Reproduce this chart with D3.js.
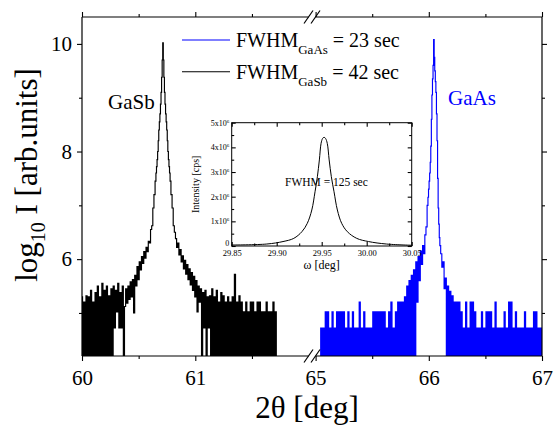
<!DOCTYPE html>
<html>
<head>
<meta charset="utf-8">
<script src="https://cdn.jsdelivr.net/npm/d3@7"></script>
<style>
  body { margin: 0; background: #fff; }
  svg { display: block; font-family: "Liberation Serif", "Times New Roman", serif; }
</style>
</head>
<body>
<svg id="chart" width="555" height="428"></svg>
<script>
// ---- data (log10 I; 0 = no counts, below the axis) ----
// GaSb scan, step 0.01 deg from 60.00
const gasbLeftStart = 60.00;
const gasbLeft = [5.3,0,5.2,0,5.32,0,5.3,0,5.42,0, 5.2,0,5.38,0,5.5,0,5.3,0,5.55,0,
  5.42,0,5.5,0,5.32,0,5.45,0, 5.5,4.72,5.42,5.02,5.55,4.72,5.38,4.72,5.5, 0,
  5.12,5.45,5.18,5.5,5.25,5.58,5.3,5.62,5.0,5.7,5.5,5.86,5.62,5.95,5.8,6.05,5.92,6.14,6.02,6.22,6.14,6.33,
  6.3,6.55,6.62,6.95,7.2,7.45];
// GaSb peak core, step 0.005 deg
const gasbCoreStart = 60.655;
const gasbCore = [7.6,7.72,7.85,8.0,8.2,8.4,8.55,8.7,8.88,9.1,9.38,9.7,10.02,
  9.7,9.38,9.1,8.88,8.7,8.55,8.4,8.2,8.0,7.85,7.72,7.6];
const gasbRightStart = 60.78;
const gasbRight = [7.45,7.2,6.95,6.62,6.5,6.38,6.22,6.3,6.08,6.18,5.95,6.06,5.82,5.98,5.72,5.9,5.62,5.82,
  5.52,5.75,5.42,5.68,5.3,5.6,5.02,5.5,5.2,5.45,0,5.38,4.72,5.42,0,5.3,4.72,5.32,
  0,5.45,0,5.3,0,5.42,0,5.2,0,5.38, 0,5.32,0,5.2,0,5.3,0,5.2,0,5.3,
  0,5.72,0,5.2,0,5.32,0,5.2,0,5.02, 0,5.2,0,5.02,0,5.2,0,5.2,0,5.02,
  0,5.2,0,5.2,0,5.02,0,5.02,0,5.2, 0,5.02,0,5.02,0,5.2,0,5.02, 0];

// GaAs scan, step 0.01 deg from 65.04
const gaasLeftStart = 65.04;
const gaasLeft = [0,4.72,0,4.72,0,5.02,0,5.02,0,4.72, 0,5.02,0,4.72,0,5.02,0,5.02,0,5.02,
  0,5.02,0,4.72,0,5.02,0,4.72,0,5.02, 0,4.72,0,4.72,0,5.2,0,4.72,0,5.02,
  0,4.72,0,4.72,0,4.72,0,5.02,0,5.02, 0,5.02,0,5.02,0,5.02,0,5.02,0,4.72,
  0,5.02,0,5.2,0,4.72,0,5.02,0,5.2, 0,5.2,0,5.2,0,5.3,0,5.5,0,5.6,
  0,5.7,0,5.8,0,5.95,5.2,6.05,5.6,6.15, 5.9,6.25,6.1,6.45,6.6];
const gaasCoreStart = 65.99;
const gaasCore = [7.0,7.15,7.3,7.45,7.6,7.8,8.1,8.6,9.05,9.35,9.6,10.08,
  9.75,9.5,9.3,9.1,8.7,8.2,7.5,6.95,6.65,6.4,6.25];
const gaasRightStart = 66.11;
const gaasRight = [6.1,5.85,5.95,5.45,5.65,
  0,5.5,0,5.4,0,5.32,0,5.2,0,5.2, 0,5.2,0,5.02,0,4.72,0,5.2,0,4.72,
  0,5.2,0,5.2,0,5.02,0,4.72,0,4.72, 0,5.02,0,4.72,0,5.02,0,5.02,0,5.02,
  0,4.72,0,5.2,0,4.72,0,4.72,0,4.72, 0,5.02,0,4.72,0,5.2,0,5.2,0,4.72,
  0,5.02,0,4.72,0,4.72,0,4.72,0,5.02, 0,4.72,0,4.72,0,4.72,0,5.02,0,5.02,
  0,4.72,0,4.72,0];

// inset rocking curve (intensity in 1e6 cps)
const insetOmega = [29.85,29.889,29.907,29.919,29.928,29.934,29.939,29.9426,29.9452,29.9474,29.9493,29.951,29.9526,
  29.9543,29.9562,29.9583,29.9607,29.9637,29.9674,29.9722,29.9785,29.9889,30.002,30.022,30.05];
const insetI = [0.04,0.08,0.18,0.31,0.58,0.92,1.46,2.2,2.81,3.49,4.16,4.36,4.41,
  4.36,4.16,3.49,2.81,2.2,1.46,0.92,0.58,0.31,0.18,0.08,0.03];

const xTicks = [60, 61, 65, 66, 67];
const xMinor = [60.5, 61.5, 65.5, 66.5];
const yTicks = [6, 8, 10];
const yMinor = [5, 7, 9];
const insetXTicks = [29.85, 29.90, 29.95, 30.00, 30.05];
const insetXMinor = [29.875, 29.925, 29.975, 30.025];
const insetYTicks = [0, 1, 2, 3, 4, 5];
const insetYMinor = [0.5, 1.5, 2.5, 3.5, 4.5];

// ---- layout ----
const svg = d3.select('#chart');
const L = 82, R = 542, T = 17, B = 356;
const gapL = 308.6, gapR = 315.6;   // axis break

const x = d3.scaleLinear().domain([60, 62, 65, 67]).range([L, gapL, gapR, R]);
const y = d3.scaleLinear().domain([4.2, 10.5]).range([B, T]).clamp(true);

const series = (parts) => parts.flatMap(([start, step, vals]) => vals.map((v, i) => [start + i * step, v]));
const gasb = series([[gasbLeftStart, 0.01, gasbLeft], [gasbCoreStart, 0.005, gasbCore], [gasbRightStart, 0.01, gasbRight]]);
const gaas = series([[gaasLeftStart, 0.01, gaasLeft], [gaasCoreStart, 0.005, gaasCore], [gaasRightStart, 0.01, gaasRight]]);

svg.append('defs').append('clipPath').attr('id', 'plotclip')
  .append('rect').attr('x', L).attr('y', T).attr('width', R - L).attr('height', B - T);

const line = d3.line().x(d => x(d[0])).y(d => y(d[1])).curve(d3.curveStep);
const plot = svg.append('g').attr('clip-path', 'url(#plotclip)');
plot.append('path').datum(gasb).attr('d', line).attr('fill', 'none').attr('stroke', '#000').attr('stroke-width', 1.15);
plot.append('path').datum(gaas).attr('d', line).attr('fill', 'none').attr('stroke', '#0000ff').attr('stroke-width', 1.15);

// ---- axes ----
function ticks(gen, tr, vals, size, fmt, fs, pad) {
  const g = svg.append('g').attr('transform', tr)
    .call(gen.tickValues(vals).tickSize(size).tickPadding(pad).tickFormat(fmt));
  g.attr('font-family', null).attr('font-size', null);
  g.select('.domain').remove();
  g.selectAll('line').attr('stroke', '#000').attr('stroke-width', 1.1);
  g.selectAll('text').attr('fill', '#000').style('font-size', fs + 'px');
  return g;
}
const none = () => '';
ticks(d3.axisBottom(x), `translate(0,${B})`, xTicks, 5, d3.format('d'), 21, 9);
ticks(d3.axisBottom(x), `translate(0,${B})`, xMinor, 3, none, 21, 9);
ticks(d3.axisTop(x), `translate(0,${T})`, xTicks, 5, none, 21, 9);
ticks(d3.axisTop(x), `translate(0,${T})`, xMinor, 3, none, 21, 9);
ticks(d3.axisLeft(y), `translate(${L},0)`, yTicks, 5, d3.format('d'), 21, 5);
ticks(d3.axisLeft(y), `translate(${L},0)`, yMinor, 3, none, 21, 5);
ticks(d3.axisRight(y), `translate(${R},0)`, yTicks, 5, none, 21, 5);
ticks(d3.axisRight(y), `translate(${R},0)`, yMinor, 3, none, 21, 5);

const frame = svg.append('g').attr('stroke', '#000').attr('stroke-width', 1.2).attr('fill', 'none');
[[L, T, L, B], [R, T, R, B], [L, T, gapL, T], [gapR, T, R, T], [L, B, gapL, B], [gapR, B, R, B]]
  .forEach(([x1, y1, x2, y2]) => frame.append('line').attr('x1', x1).attr('y1', y1).attr('x2', x2).attr('y2', y2));
// break marks
[T, B].forEach(yy => {
  [-3.5, 3.5].forEach(dx => {
    frame.append('line')
      .attr('x1', 312 + dx - 4.5).attr('y1', yy + 6.5)
      .attr('x2', 312 + dx + 4.5).attr('y2', yy - 6.5);
  });
});

// axis titles
svg.append('text').attr('x', 307).attr('y', 418).attr('text-anchor', 'middle')
  .style('font-size', '31px').text('2θ [deg]');
const yt = svg.append('text').attr('transform', 'translate(37,175) rotate(-90)')
  .attr('text-anchor', 'middle').style('font-size', '31px');
yt.append('tspan').text('log');
yt.append('tspan').attr('dy', 8).style('font-size', '20px').text('10');
yt.append('tspan').attr('dy', -8).text(' I [arb.units]');

// peak labels
svg.append('text').attr('x', 108).attr('y', 109).style('font-size', '21px').text('GaSb');
svg.append('text').attr('x', 448).attr('y', 105).attr('fill', '#0000ff').style('font-size', '21px').text('GaAs');

// legend
const legendRows = [['GaAs', '23', '#0000ff', 40], ['GaSb', '42', '#000', 71.7]];
legendRows.forEach(([sub, val, col, ly]) => {
  svg.append('line').attr('x1', 182).attr('x2', 230).attr('y1', ly).attr('y2', ly)
    .attr('stroke', col).attr('stroke-width', 1.1);
  const t = svg.append('text').attr('x', 236).attr('y', ly + 6.8).style('font-size', '20px');
  t.append('tspan').text('FWHM');
  t.append('tspan').attr('dy', 7.6).style('font-size', '13px').text(sub);
  t.append('tspan').attr('dy', -7.6).text(' = ' + val + ' sec');
});

// ---- inset ----
const iL = 231.7, iR = 411.7, iT = 122.7, iB = 246;
const ix = d3.scaleLinear().domain([29.85, 30.05]).range([iL, iR]);
const iy = d3.scaleLinear().domain([0, 5]).range([iB, iT]);
svg.append('rect').attr('x', iL).attr('y', iT).attr('width', iR - iL).attr('height', iB - iT).attr('fill', '#fff');

ticks(d3.axisBottom(ix), `translate(0,${iB})`, insetXTicks, -4, d3.format('.2f'), 8.5, 4);
ticks(d3.axisBottom(ix), `translate(0,${iB})`, insetXMinor, -2.5, none, 8.5, 3);
ticks(d3.axisTop(ix), `translate(0,${iT})`, insetXTicks, -4, none, 8.5, 3);
ticks(d3.axisTop(ix), `translate(0,${iT})`, insetXMinor, -2.5, none, 8.5, 3);
const iyg = ticks(d3.axisLeft(iy), `translate(${iL},0)`, insetYTicks, -4, d3.format('d'), 8, 2.5);
ticks(d3.axisLeft(iy), `translate(${iL},0)`, insetYMinor, -2.5, none, 8, 2.5);
ticks(d3.axisRight(iy), `translate(${iR},0)`, insetYTicks, -4, none, 8, 2.5);
ticks(d3.axisRight(iy), `translate(${iR},0)`, insetYMinor, -2.5, none, 8, 2.5);
iyg.selectAll('text').each(function (d) {
  const t = d3.select(this);
  if (d === 0) { t.attr('dy', '-0.05em'); return; }
  t.text(null);
  t.append('tspan').text(d + 'x10');
  t.append('tspan').attr('dy', -3).style('font-size', '5px').text('6');
});

svg.append('rect').attr('x', iL).attr('y', iT).attr('width', iR - iL).attr('height', iB - iT)
  .attr('fill', 'none').attr('stroke', '#000').attr('stroke-width', 1);

svg.append('path').datum(insetOmega.map((w, i) => [w, insetI[i]]))
  .attr('d', d3.line().x(d => ix(d[0])).y(d => iy(d[1])).curve(d3.curveCatmullRom))
  .attr('fill', 'none').attr('stroke', '#000').attr('stroke-width', 1);

svg.append('text').attr('x', 285).attr('y', 186).style('font-size', '11.5px').text('FWHM = 125 sec');
svg.append('text').attr('transform', `translate(199,${(iT + iB) / 2}) rotate(-90)`)
  .attr('text-anchor', 'middle').style('font-size', '10px').text('Intensity [cps]');
svg.append('text').attr('x', (iL + iR) / 2).attr('y', 269).attr('text-anchor', 'middle')
  .style('font-size', '12px').text('ω [deg]');
</script>
</body>
</html>
